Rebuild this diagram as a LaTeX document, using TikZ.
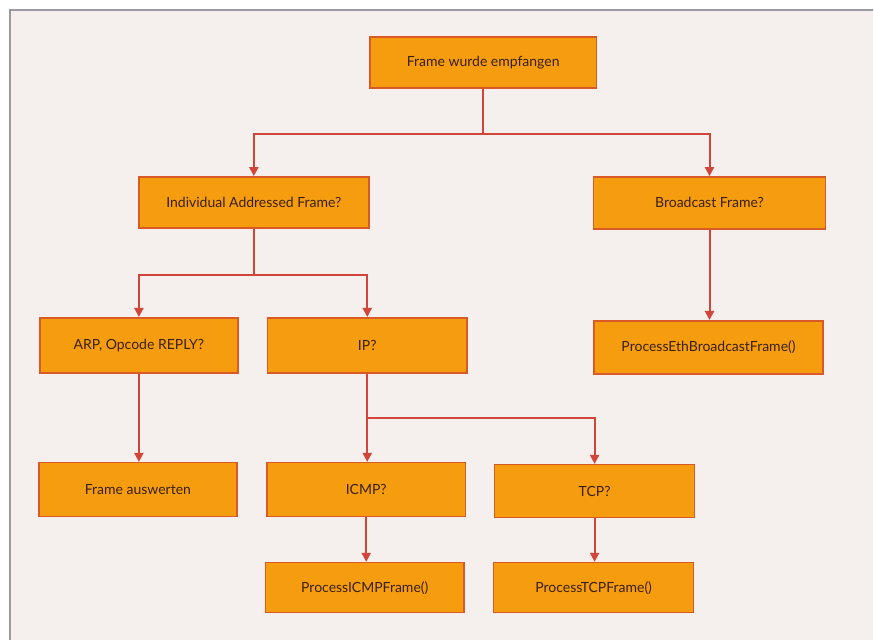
\documentclass[tikz,border=0pt]{standalone}
\usepackage{fontspec}
\setmainfont{Lato}
\usetikzlibrary{arrows.meta}
\definecolor{boxfill}{HTML}{F69C0F}
\definecolor{boxline}{HTML}{D95A26}
\definecolor{linkred}{HTML}{D2463A}
\definecolor{labelbrown}{HTML}{3A200E}
\definecolor{paper}{HTML}{F5EFEE}
\definecolor{rule}{HTML}{9A9AA2}
\begin{document}
\begin{tikzpicture}[x=1pt,y=-1pt,
  stepbox/.style={draw=boxline,line width=1.6pt,fill=boxfill,
    text=labelbrown,font=\fontsize{14}{16}\selectfont,
    minimum width=200pt,minimum height=53pt,inner sep=0pt},
  link/.style={draw=linkred,line width=2pt},
  arr/.style={link,-{Triangle[width=9pt,length=9pt]}}]
  % page and frame rule
  \fill[white] (0,0) rectangle (874,640);
  \fill[paper] (10,10) rectangle (874,640);
  \draw[rule,line width=1.2pt] (10,640) -- (10,10) -- (874,10);
  \useasboundingbox (0,0) rectangle (874,640);

  % boxes
  \node[stepbox,minimum width=227pt,minimum height=51pt] (start) at (483.5,62.5) {Frame wurde empfangen};
  \node[stepbox,minimum width=230pt,minimum height=51pt] (indiv) at (254,202.5) {Individual Addressed Frame?};
  \node[stepbox,minimum width=232pt,minimum height=52pt] (bcast) at (710,203) {Broadcast Frame?};
  \node[stepbox,minimum width=198pt,minimum height=55pt] (arp) at (139,345.5) {ARP, Opcode REPLY?};
  \node[stepbox,minimum width=200pt,minimum height=55pt] (ip) at (367.5,345.5) {IP?};
  \node[stepbox,minimum width=229pt,minimum height=53pt] (peb) at (709,347.5) {ProcessEthBroadcastFrame()};
  \node[stepbox,minimum width=198pt,minimum height=54pt] (faus) at (138,490) {Frame auswerten};
  \node[stepbox,minimum width=199pt,minimum height=54pt] (icmp) at (366.5,490) {ICMP?};
  \node[stepbox,minimum width=200pt,minimum height=53pt] (tcp) at (595,491.5) {TCP?};
  \node[stepbox,minimum width=199pt,minimum height=50pt] (picmp) at (365,588) {ProcessICMPFrame()};
  \node[stepbox,minimum width=200pt,minimum height=50pt] (ptcp) at (594,588) {ProcessTCPFrame()};

  % branch points
  \coordinate (j1) at (start.south |- 0,134);
  \coordinate (j2) at (indiv.south |- 0,275);
  \coordinate (j3) at (ip.south |- 0,418);

  % connectors
  \draw[link] (start.south) -- (j1);
  \draw[arr] (j1) -| (indiv.north);
  \draw[arr] (j1) -| (bcast.north);
  \draw[link] (indiv.south) -- (j2);
  \draw[arr] (j2) -| (arp.north);
  \draw[arr] (j2) -| (ip.north);
  \draw[arr] (bcast.south) -- (bcast.south |- peb.north);
  \draw[arr] (arp.south) -- (arp.south |- faus.north);
  \draw[arr] (ip.south) -- (ip.south |- icmp.north);
  \draw[arr] (j3) -| (tcp.north);
  \draw[arr] (icmp.south) -- (icmp.south |- picmp.north);
  \draw[arr] (tcp.south) -- (tcp.south |- ptcp.north);
\end{tikzpicture}
\end{document}
